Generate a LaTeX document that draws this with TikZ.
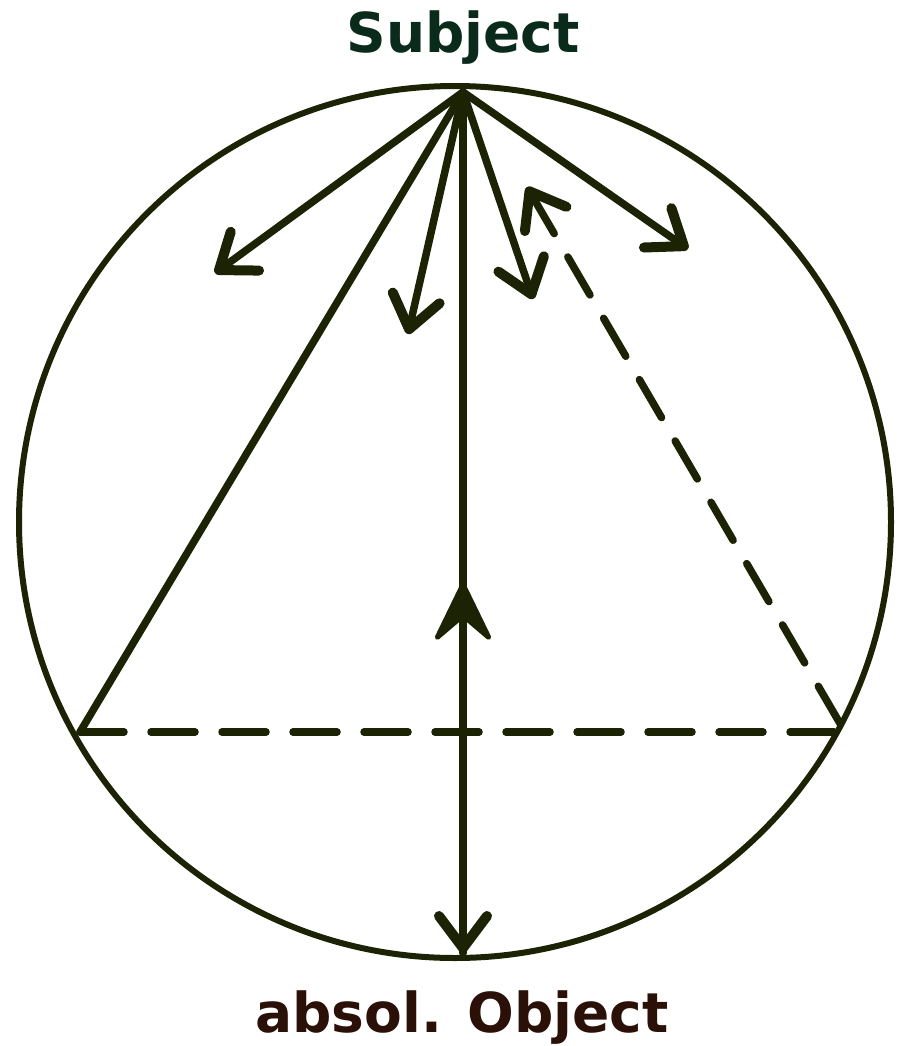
\documentclass[tikz,border=0pt]{standalone}
\usepackage{fontspec}
\setmainfont{DejaVu Sans}
\usetikzlibrary{arrows.meta}
\definecolor{ink}{HTML}{1C2204}
\definecolor{subjcol}{HTML}{0A2A1C}
\definecolor{objcol}{HTML}{2A1006}

\tikzset{barb/.tip={Straight Barb[length=32pt,width=48pt,round,line width=10pt]}}

\begin{document}
\begin{tikzpicture}[
  x=1pt, y=-1pt,
  line/.style={draw=ink, line width=7.5pt, line cap=round, line join=round},
  arr/.style={line, -barb},
  dline/.style={line, dash pattern=on 44pt off 27pt},
  lbl/.style={font=\fontsize{55}{60}\selectfont\bfseries, anchor=base, inner sep=0pt}
]
\path[use as bounding box] (0,0) rectangle (897,1046);

\node[lbl, text=subjcol] (subj) at (463,53) {Subject};
\node[lbl, text=objcol] (obj) at (462,1032) {absol. Object};

\coordinate (S) at (463,92);
\coordinate (O) at (463,953);
\coordinate (L) at (80,732);
\coordinate (R) at (845,732);
\coordinate (m) at (463,582);
\coordinate (d) at (527,187);

\draw[line, line width=6pt] (455,522) circle[radius=436pt];

\draw[line] (S) -- (L);
\draw[dline] (L) -- (R);
\draw[dline, barb-] (d) -- (R);
\draw[arr] (S) -- (O);
\draw[line, -{Stealth[length=68pt,width=66pt,inset=28pt,line width=5pt,round]}] (O) -- (m);

\draw[arr] (S) -- (215,273);
\draw[arr] (S) -- (408,334);
\draw[arr] (S) -- (533,299);
\draw[arr] (S) -- (688,249);
\end{tikzpicture}
\end{document}
